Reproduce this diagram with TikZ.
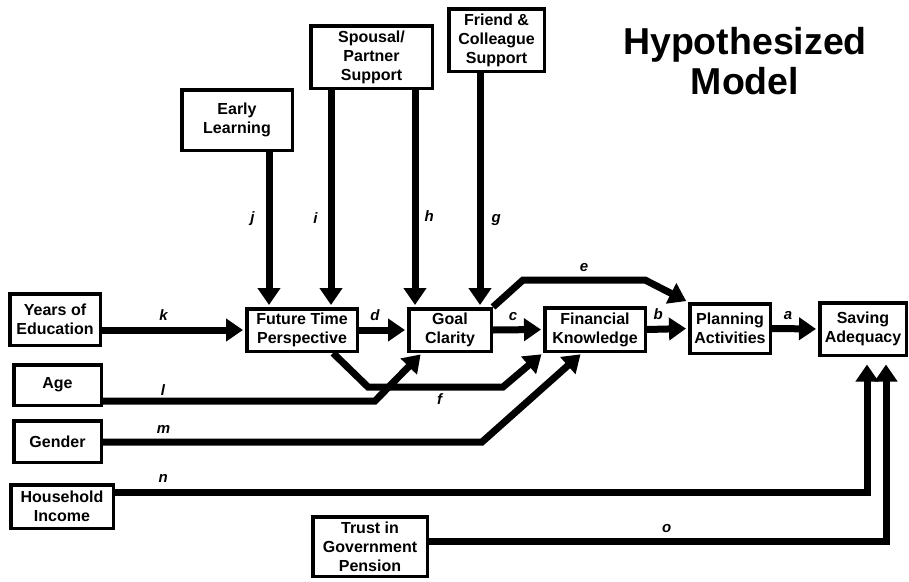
\documentclass[tikz,border=0pt]{standalone}
\usepackage{fontspec}
\setmainfont{Liberation Sans}
\usetikzlibrary{arrows.meta}

\begin{document}
\begin{tikzpicture}[x=1pt, y=-1pt,
	box/.style={draw, line width=3.5pt, align=center, inner sep=0pt, font=\fontsize{16}{19}\selectfont\bfseries},
	arr/.style={line width=7pt, -{Triangle[length=17pt, width=22pt]}, shorten >=2pt},
	lab/.style={font=\fontsize{15}{15}\selectfont\bfseries\itshape, inner sep=0pt}]
\useasboundingbox (0,0) rectangle (909,581);
\node[font=\fontsize{37.5}{40}\selectfont\bfseries, align=center, inner sep=0pt] (title) at (745,61) {Hypothesized\\Model};
\node[box, minimum width=90.5pt, minimum height=51.5pt] (years) at (55,319.5) {Years of\\Education};
\node[box, minimum width=87.5pt, minimum height=40.5pt] (age) at (57.5,385) {Age};
\node[box, minimum width=87.5pt, minimum height=41.5pt] (gender) at (57.5,441.5) {Gender};
\node[box, minimum width=102.5pt, minimum height=43.5pt] (income) at (62,506.5) {Household\\Income};
\node[box, minimum width=114.5pt, minimum height=59.5pt] (trust) at (370,546.5) {Trust in\\Government\\Pension};
\node[box, minimum width=110.5pt, minimum height=60.5pt] (early) at (237,120) {Early\\Learning};
\node[box, minimum width=121.5pt, minimum height=62.5pt] (spousal) at (371.5,57) {Spousal/\\Partner\\Support};
\node[box, minimum width=95.5pt, minimum height=62.5pt] (friend) at (496.5,40) {Friend \&\\Colleague\\Support};
\node[box, minimum width=110.5pt, minimum height=42.5pt] (ftp) at (302,330) {Future Time\\Perspective};
\node[box, minimum width=82.5pt, minimum height=42.5pt] (goal) at (450,330) {Goal\\Clarity};
\node[box, minimum width=100.5pt, minimum height=43.5pt] (fin) at (595,329.5) {Financial\\Knowledge};
\node[box, minimum width=80.5pt, minimum height=49.5pt] (plan) at (730,328.5) {Planning\\Activities};
\node[box, minimum width=86.5pt, minimum height=52.5pt] (saving) at (863,329) {Saving\\Adequacy};

\path[arr]
(years.east |- ftp.west) edge node[lab, above=6pt, pos=.43] {k} (ftp.west)
(ftp.east) edge node[lab, above=6pt, pos=.33] {d} (goal.west)
(goal.east) edge node[lab, above=6pt, pos=.4] {c} (fin.west)
(fin.east) edge node[lab, above=6pt, pos=.27] {b} (plan.west)
(plan.east) edge node[lab, above=6pt, pos=.35] {a} (saving.west)
(269,0 |- early.south) edge node[lab, left=11pt, pos=.43] {j} (269,0 |- ftp.north)
(331,0 |- spousal.south) edge node[lab, left=10pt, pos=.59] {i} (331,0 |- ftp.north)
(415,0 |- spousal.south) edge node[lab, right=6pt, pos=.58] {h} (415,0 |- goal.north)
(480,0 |- friend.south) edge node[lab, right=8pt, pos=.63] {g} (480,0 |- goal.north)
;
\draw[arr] (goal.north east) -- (523,280) -- node[lab, above=5pt] {e} (645,280) -- (plan.north west);
\draw[arr] (333,0 |- ftp.south) -- (368,387) -- node[lab, below=3pt, pos=.53] {f} (503,387) -- (fin.south west);
\draw[arr] (age.east |- 0,401) -- node[lab, above=2.5pt, pos=.22] {l} (375,401) -- (422,0 |- goal.south);
\draw[arr] (gender.east |- 0,442) -- node[lab, above=5pt, pos=.16] {m} (482,442) -- (582,0 |- fin.south);
\draw[arr, shorten >=7.5pt] (income.east |- 0,492) -- node[lab, above=6pt, pos=.064] {n} (867,492) -- (867,0 |- saving.south);
\draw[arr, shorten >=7.5pt] (trust.east |- 0,541) -- node[lab, above=5pt, pos=.52] {o} (886,541) -- (886,0 |- saving.south);
\end{tikzpicture}
\end{document}
